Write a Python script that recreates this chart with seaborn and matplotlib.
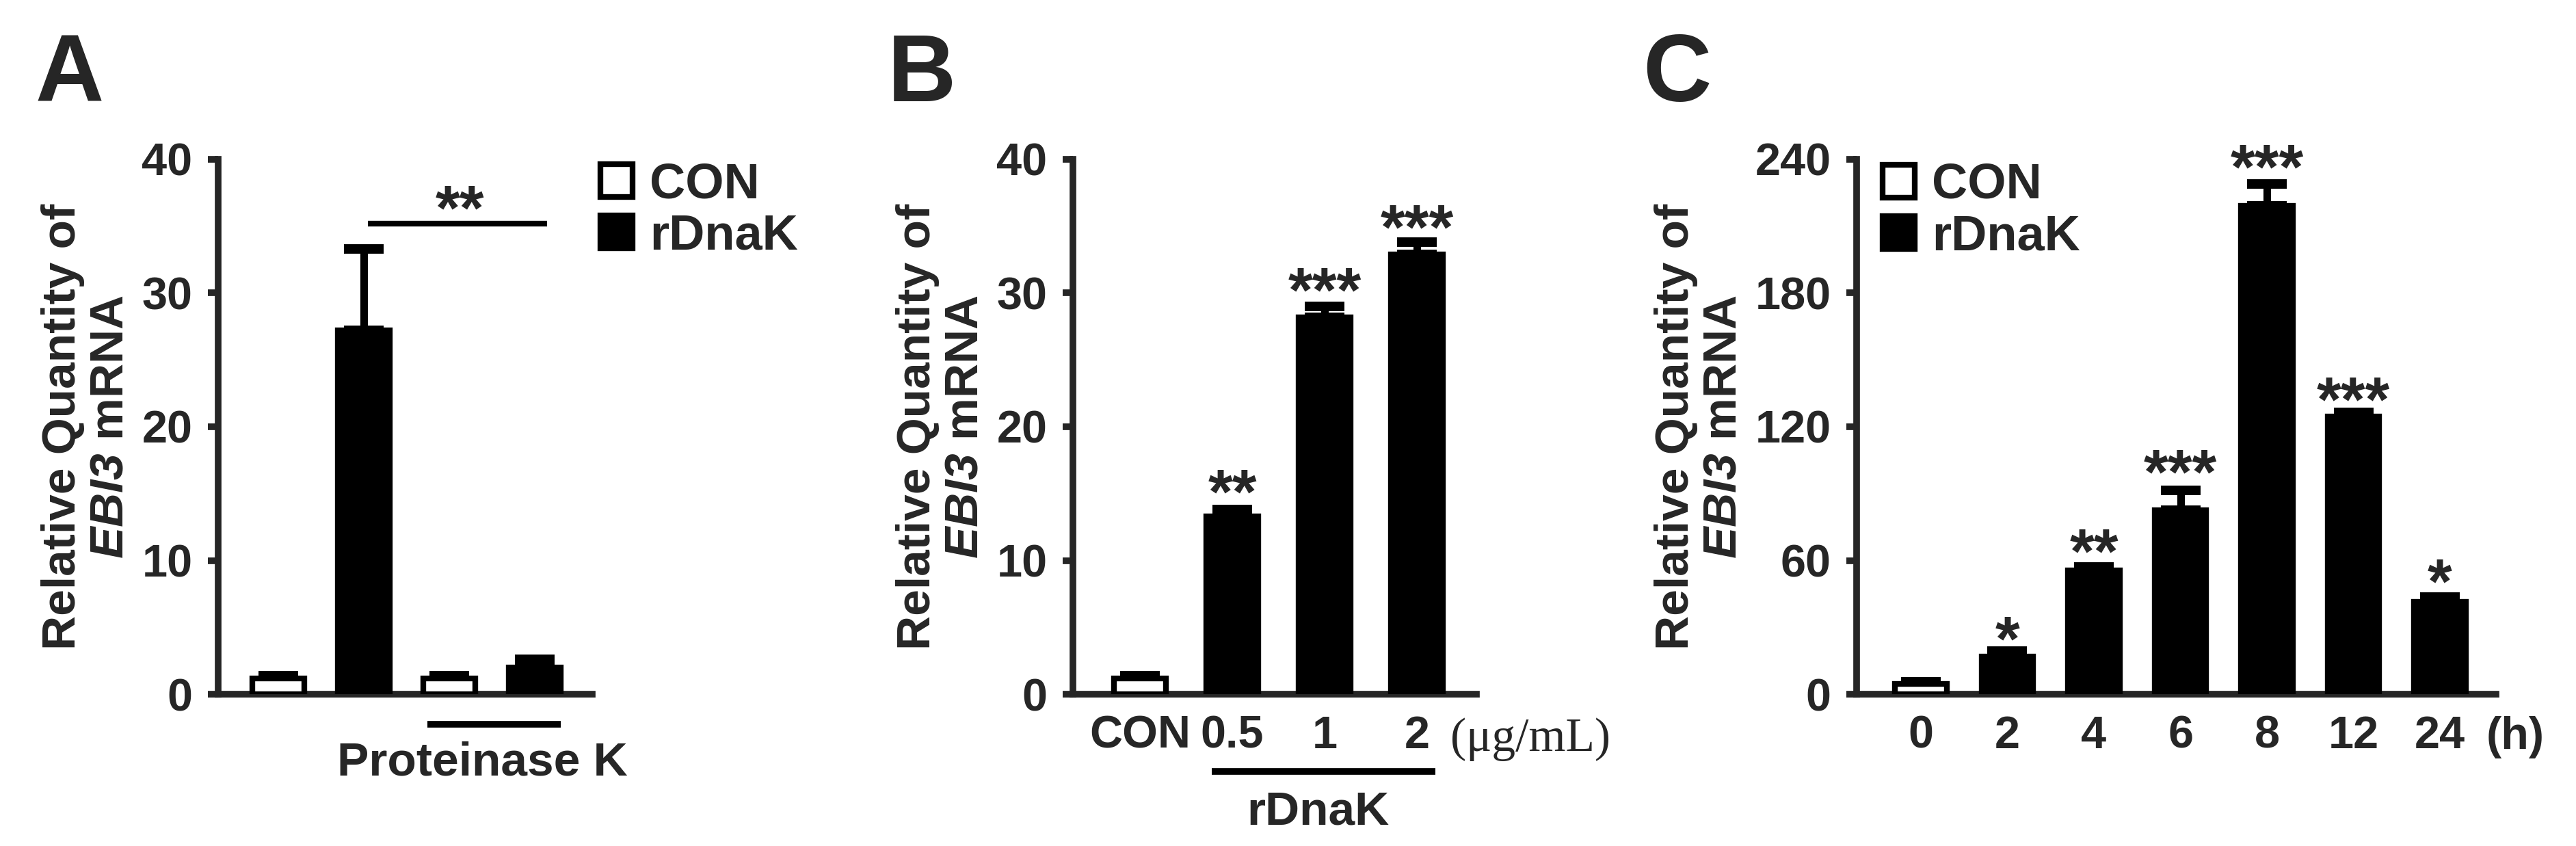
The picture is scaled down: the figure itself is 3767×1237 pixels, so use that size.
import numpy as np
import pandas as pd
import seaborn as sns
import matplotlib.pyplot as plt
from matplotlib.patches import Patch

# ---- data ----
# A: proteinase K control
a_keys = ['con', 'dnak', 'pk_con', 'pk_dnak']
a_group = ['CON', 'rDnaK', 'CON', 'rDnaK']
a_mean = [1.2, 27.2, 1.2, 2.0]
a_sem = [0.2, 6.1, 0.2, 0.6]

# B: dose response
b_labels = ['CON', '0.5', '1', '2']
b_group = ['CON', 'rDnaK', 'rDnaK', 'rDnaK']
b_mean = [1.2, 13.3, 28.2, 32.9]
b_sem = [0.2, 0.5, 0.8, 0.9]
b_stars = ['', '**', '***', '***']
b_star_y = [0, 16.2, 31.3, 36.0]

# C: time course
c_labels = ['0', '2', '4', '6', '8', '12', '24']
c_group = ['CON', 'rDnaK', 'rDnaK', 'rDnaK', 'rDnaK', 'rDnaK', 'rDnaK']
c_mean = [4.5, 16.9, 55.5, 82.5, 219.0, 124.5, 41.5]
c_sem = [1.0, 2.4, 1.5, 9.0, 10.0, 2.0, 2.2]
c_stars = ['', '*', '**', '***', '***', '***', '*']
c_star_y = [0, 31, 70.5, 106, 243, 138.5, 57]

W, H = 3767, 1237
pal = {'CON': 'white', 'rDnaK': 'black'}

sns.set_theme(style='ticks')
plt.rcParams['font.family'] = ['Liberation Sans', 'DejaVu Sans']
plt.rcParams['font.weight'] = 'bold'
plt.rcParams['axes.labelweight'] = 'bold'
plt.rcParams['mathtext.fontset'] = 'custom'
# gene name in italics, digits included
plt.rcParams['mathtext.it'] = 'Liberation Sans:italic:bold'
plt.rcParams['mathtext.rm'] = 'Liberation Sans:italic:bold'
plt.rcParams['mathtext.bf'] = 'Liberation Sans:bold'

fig = plt.figure(figsize=(W / 100, H / 100), dpi=100)


def fx(x):
    return x / W


def fy(y):
    return 1 - y / H


y0, ytop = 1015, 233
axA = fig.add_axes([fx(319), fy(y0), fx(866 - 319), (y0 - ytop) / H])
axB = fig.add_axes([fx(1569), fy(y0), fx(2159 - 1569), (y0 - ytop) / H])
axC = fig.add_axes([fx(2715), fy(y0), fx(3650 - 2715), (y0 - ytop) / H])

STAR_FS = 66


def bar_panel(ax, keys, groups, means, sems, width, yticks):
    df = pd.DataFrame({'key': keys, 'group': groups, 'mean': means})
    sns.barplot(data=df, x='key', y='mean', hue='group', palette=pal,
                dodge=False, width=width, saturation=1, edgecolor='black',
                linewidth=6, errorbar=None, legend=False, ax=ax, zorder=3)
    n = len(keys)
    ax.errorbar(np.arange(n), means, yerr=[np.zeros(n), sems], fmt='none',
                ecolor='black', elinewidth=8, capsize=21, capthick=10,
                zorder=2)
    ax.set_ylim(0, yticks[-1])
    ax.set_yticks(yticks)
    sns.despine(ax=ax)
    for s in ['left', 'bottom']:
        ax.spines[s].set_linewidth(7)
    ax.tick_params(axis='y', width=7, length=11, pad=16, labelsize=48)
    ax.tick_params(axis='x', length=0, pad=22, labelsize=48)
    ax.set_xlabel('')
    ax.set_ylabel('Relative Quantity of\n$\\mathrm{EBI3}$ mRNA',
                  fontsize=50, linespacing=1.1, labelpad=10)


def stars(ax, xs, ys, labels):
    for x, y, s in zip(xs, ys, labels):
        if s:
            ax.annotate(s, (x, y), xytext=(0, -0.566 * STAR_FS),
                        textcoords='offset points', ha='center',
                        va='baseline', fontsize=STAR_FS, fontweight='bold',
                        annotation_clip=False)


def legend(xy):
    handles = [Patch(facecolor='white', edgecolor='black', linewidth=6, label='CON'),
               Patch(facecolor='black', edgecolor='black', linewidth=6, label='rDnaK')]
    fig.legend(handles=handles, loc='upper left', bbox_to_anchor=xy,
               frameon=False, prop={'size': 52, 'weight': 'bold'},
               handlelength=0.65, handleheight=0.65, handletextpad=0.35,
               labelspacing=0.1, borderpad=0, borderaxespad=0)


# ---- A ----
bar_panel(axA, a_keys, a_group, a_mean, a_sem, 0.61, [0, 10, 20, 30, 40])
axA.set_xlim(-0.704, 3.672)
axA.set_xticks([])
axA.plot([1.05, 3.14], [35.2, 35.2], color='black', lw=6, clip_on=False,
         solid_capstyle='butt')
stars(axA, [2.12], [37.4], ['**'])
axA.plot([1.74, 3.3], [-0.056, -0.056], color='black', lw=7,
         transform=axA.get_xaxis_transform(), clip_on=False,
         solid_capstyle='butt')
axA.text(2.39, -0.129, 'Proteinase K', transform=axA.get_xaxis_transform(),
         ha='center', va='center', fontsize=50, fontweight='bold')
legend((fx(878), fy(236)))

# ---- B ----
bar_panel(axB, b_labels, b_group, b_mean, b_sem, 0.56, [0, 10, 20, 30, 40])
axB.set_xlim(-0.726, 3.644)
axB.set_xticks(range(len(b_labels)), b_labels)
stars(axB, range(len(b_labels)), b_star_y, b_stars)
axB.text(4.23, -0.106, '(\u03bcg/mL)', transform=axB.get_xaxis_transform(),
         ha='center', va='baseline', fontsize=50, fontweight='normal',
         family=['Liberation Serif', 'DejaVu Serif'])
axB.plot([0.78, 3.2], [-0.145, -0.145], color='black', lw=7,
         transform=axB.get_xaxis_transform(), clip_on=False,
         solid_capstyle='butt')
axB.text(1.93, -0.221, 'rDnaK', transform=axB.get_xaxis_transform(),
         ha='center', va='center', fontsize=50, fontweight='bold')

# ---- C ----
bar_panel(axC, c_labels, c_group, c_mean, c_sem, 0.6, [0, 60, 120, 180, 240])
axC.set_xlim(-0.743, 6.648)
axC.set_xticks(range(len(c_labels)), c_labels)
stars(axC, range(len(c_labels)), c_star_y, c_stars)
axC.text(6.87, -0.102, '(h)', transform=axC.get_xaxis_transform(),
         ha='center', va='baseline', fontsize=48, fontweight='bold')
legend((fx(2753), fy(237)))

for x, letter in [(52, 'A'), (1298, 'B'), (2402, 'C')]:
    fig.text(fx(x), fy(148), letter, fontsize=100, fontweight='bold',
             va='baseline', ha='left')

fig.savefig('out.png', dpi=100)
